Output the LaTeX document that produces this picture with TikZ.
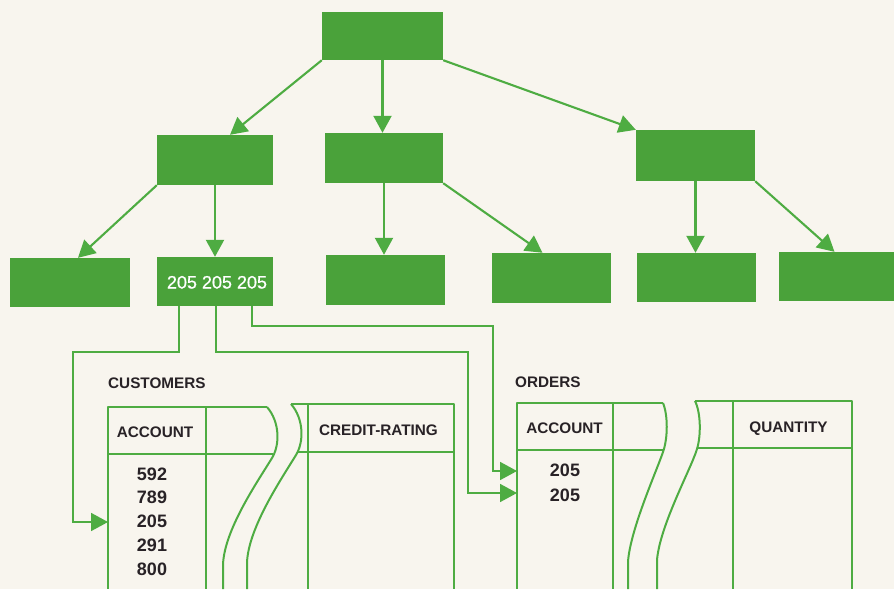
\documentclass[tikz,border=0pt]{standalone}
\usepackage{fontspec}
\setmainfont{Liberation Sans}
\newfontfamily\keyfont{Liberation Sans}[FakeBold=0.8]
\usetikzlibrary{arrows.meta}
\definecolor{paper}{RGB}{248,245,238}
\definecolor{boxgreen}{RGB}{74,162,58}
\definecolor{linegreen}{RGB}{78,172,66}
\definecolor{ink}{RGB}{40,34,38}
\begin{document}
\begin{tikzpicture}[x=1pt,y=-1pt,
  block/.style={fill=boxgreen, draw=none, inner sep=0pt, minimum width=119pt, minimum height=50pt},
  tree/.style={draw=linegreen, line width=2.1pt, -{Triangle[length=17pt,width=18pt]}},
  link/.style={draw=linegreen, line width=1.8pt, -{Triangle[length=17pt,width=18pt]}},
  grid/.style={draw=linegreen, line width=2pt, line join=round},
  head/.style={font=\fontsize{15.3}{18}\selectfont\bfseries, text=ink, inner sep=0pt, text height=11pt, text depth=0pt},
  num/.style={font=\fontsize{18}{20}\selectfont\bfseries, text=ink, inner sep=0pt, text height=12.8pt, text depth=0pt},
  keys/.style={font=\fontsize{18}{20}\selectfont\keyfont, text=white, inner sep=0pt, text height=13pt, text depth=0pt}
]
\useasboundingbox[fill=paper] (0,0) rectangle (894,589);

% hierarchy of records
\node[block, minimum width=121pt, minimum height=48pt] (top) at (382.5,36) {};
\node[block, minimum width=116pt] (l2a) at (215,160) {};
\node[block, minimum width=118pt] (l2b) at (384,158) {};
\node[block, minimum height=51pt] (l2c) at (695.5,155.5) {};
\node[block, minimum width=120pt, minimum height=49pt] (b1) at (70,282.5) {};
\node[block, minimum width=116pt, minimum height=49pt] (b2) at (215,281.5) {};
\node[block] (b3) at (385.5,280) {};
\node[block] (b4) at (551.5,278) {};
\node[block, minimum height=49pt] (b5) at (696.5,277.5) {};
\node[block, minimum width=115pt, minimum height=49pt] (b6) at (836.5,276.5) {};
\node[keys] (b2keys) at (217,282) {205 205 205};

\draw[tree] (top.south west) -- ([xshift=15pt]l2a.north);
\draw[tree] (top.south) -- (top.south |- l2b.north);
\draw[tree] (top.south east) -- (l2c.north west);
\draw[tree] (l2a.south west) -- ([xshift=8pt]b1.north);
\draw[tree] (l2a.south) -- (b2.north);
\draw[tree] (l2b.south) -- (l2b.south |- b3.north);
\draw[tree] (l2b.south east) -- ([xshift=-9pt]b4.north);
\draw[tree] (l2c.south) -- (l2c.south |- b5.north);
\draw[tree] (l2c.south east) -- ([xshift=-2pt]b6.north);

% CUSTOMERS table, left part
\draw[grid] (267,407) -- (108,407) -- (108,589);
\draw[grid] (206,407) -- (206,589);
\draw[grid] (108,454) -- (273,454);
\draw[grid] (267,407) .. controls (280,422) and (280,445) .. (272,458)
  .. controls (258,481) and (224,530) .. (223,565) -- (223,589);
% CUSTOMERS table, right part
\draw[grid] (291,404) -- (454,404) -- (454,589);
\draw[grid] (308,404) -- (308,589);
\draw[grid] (298,452) -- (454,452);
\draw[grid] (291,404) .. controls (304,419) and (304,442) .. (296,455)
  .. controls (282,478) and (248,528) .. (247,563) -- (247,589);

% ORDERS table, left part
\draw[grid] (663,403) -- (517,403) -- (517,589);
\draw[grid] (613,403) -- (613,589);
\draw[grid] (517,450) -- (664,450);
\draw[grid] (663,403) .. controls (668,415) and (668,438) .. (663,452)
  .. controls (657,470) and (630,530) .. (628,562) -- (628,589);
% ORDERS table, right part
\draw[grid] (695,401) -- (852,401) -- (852,589);
\draw[grid] (733,401) -- (733,589);
\draw[grid] (698,448) -- (852,448);
\draw[grid] (695,401) .. controls (701,413) and (701,436) .. (697,449)
  .. controls (691,469) and (660,525) .. (657,560) -- (657,589);

% table titles and contents
\node[head, anchor=west] (custTitle) at (108,383) {CUSTOMERS};
\node[head] (custAcc) at (155,432) {ACCOUNT};
\node[head] (custCredit) at (378.5,430) {CREDIT-RATING};
\node[num] (n1) at (152,474) {592};
\node[num] (n2) at (152,497.5) {789};
\node[num] (n3) at (152,521.5) {205};
\node[num] (n4) at (152,545) {291};
\node[num] (n5) at (152,569) {800};

\node[head, anchor=west] (ordTitle) at (515,382) {ORDERS};
\node[head] (ordAcc) at (564.5,428) {ACCOUNT};
\node[head] (ordQty) at (788.5,427) {QUANTITY};
\node[num] (o1) at (565,470) {205};
\node[num] (o2) at (565,495) {205};

% pointers from the key record into the tables
\coordinate (custIn) at (108,522);
\coordinate (ordIn1) at (517,471);
\coordinate (ordIn2) at (517,493);
\coordinate (bendA) at (73,352);
\coordinate (bendB) at (468,352);
\coordinate (bendC) at (493,326);
\draw[link] ([xshift=-36pt]b2.south) |- (bendA) |- (custIn);
\draw[link] ([xshift=1pt]b2.south) |- (bendB) |- (ordIn2);
\draw[link] ([xshift=37pt]b2.south) |- (bendC) |- (ordIn1);
\end{tikzpicture}
\end{document}
